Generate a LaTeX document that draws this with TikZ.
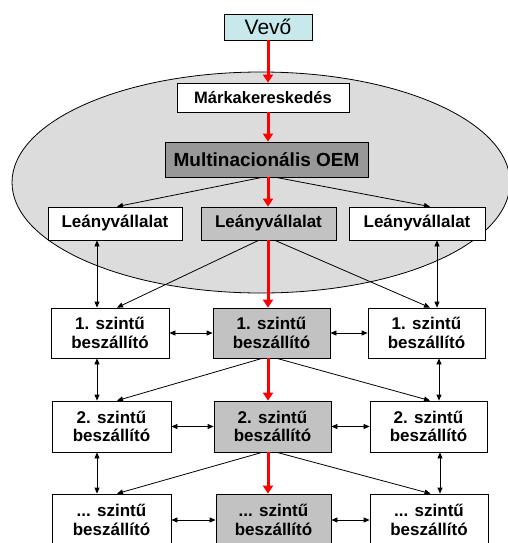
\documentclass[tikz,border=0pt]{standalone}
\usepackage{fontspec}
\setmainfont{Liberation Sans}
\usetikzlibrary{arrows.meta}
\definecolor{custcyan}{HTML}{C8E9EC}
\definecolor{oemgray}{HTML}{989898}
\definecolor{midgray}{HTML}{C2C2C2}
\definecolor{ovalgray}{HTML}{DCDCDC}
\definecolor{flowred}{HTML}{FF0000}
\tikzset{
  box/.style={draw=black, line width=0.8pt, fill=white, inner sep=0pt,
    align=center, font=\bfseries\fontsize{17}{18.5}\selectfont},
  midbox/.style={box, fill=midgray},
  redflow/.style={draw=flowred, line width=3pt, -{Triangle[length=8pt,width=10pt]}},
  link/.style={draw=black, line width=0.8pt, -{Triangle[length=6pt,width=5pt]}},
  twoway/.style={draw=black, line width=0.8pt, {Triangle[length=6pt,width=5pt]}-{Triangle[length=6pt,width=5pt]}}
}
\begin{document}
\begin{tikzpicture}[x=1pt,y=-1pt]
\useasboundingbox (0,0) rectangle (508,543);
\fill[white] (0,0) rectangle (508,543);
\clip (0,0) rectangle (508,543);

% company oval
\draw[fill=ovalgray, line width=0.8pt] (261,182.5) ellipse [x radius=249, y radius=110.5];

% top of the chain
\node[box, fill=custcyan, minimum width=88pt, minimum height=26pt,
  font=\fontsize{21}{23}\selectfont] (vevo) at (268,27) {Vevő};
\node[box, minimum width=172pt, minimum height=29pt,
  font=\bfseries\fontsize{16.5}{18}\selectfont] (marka) at (263,97.5) {Márkakereskedés};
\node[box, fill=oemgray, minimum width=203pt, minimum height=35pt,
  font=\bfseries\fontsize{19}{21}\selectfont] (oem) at (266.5,159.5) {Multinacionális OEM};

% subsidiaries
\node[box, minimum width=134pt, minimum height=33pt] (leL) at (115,223.5) {Leányvállalat};
\node[midbox, minimum width=135pt, minimum height=33pt] (leM) at (268.5,223.5) {Leányvállalat};
\node[box, minimum width=136pt, minimum height=33pt] (leR) at (417,223.5) {Leányvállalat};

% supplier tiers
\node[box, minimum width=118pt, minimum height=50pt] (t1L) at (110,333) {1. szintű\\beszállító};
\node[midbox, minimum width=117pt, minimum height=50pt] (t1M) at (271.5,333) {1. szintű\\beszállító};
\node[box, minimum width=117pt, minimum height=50pt] (t1R) at (426.5,333) {1. szintű\\beszállító};

\node[box, minimum width=119pt, minimum height=51pt] (t2L) at (111.5,426.5) {2. szintű\\beszállító};
\node[midbox, minimum width=117pt, minimum height=51pt] (t2M) at (272.5,426.5) {2. szintű\\beszállító};
\node[box, minimum width=117pt, minimum height=51pt] (t2R) at (428.5,426.5) {2. szintű\\beszállító};

\node[box, minimum width=119pt, minimum height=52pt] (t3L) at (111.5,520) {... szintű\\beszállító};
\node[midbox, minimum width=115pt, minimum height=52pt] (t3M) at (273.5,520) {... szintű\\beszállító};
\node[box, minimum width=118pt, minimum height=52pt] (t3R) at (429,520) {... szintű\\beszállító};

% main red flow
\coordinate (axis) at (268,0);
\draw[redflow] (vevo.south) -- (axis |- marka.north);
\draw[redflow] (axis |- marka.south) -- (axis |- oem.north);
\draw[redflow] (axis |- oem.south) -- (axis |- leM.north);
\draw[redflow] (axis |- leM.south) -- (axis |- t1M.north);
\draw[redflow] (axis |- t1M.south) -- (axis |- t2M.north);
\draw[redflow] (axis |- t2M.south) -- (axis |- t3M.north);

% fan-out links
\draw[link] ([xshift=-4.5pt]oem.south) -- ([xshift=2pt]leL.north);
\draw[link] ([xshift=9.5pt]oem.south) -- ([xshift=13pt]leR.north);
\draw[link] ([xshift=-10pt]leM.south) -- ([xshift=7pt]t1L.north);
\draw[link] ([xshift=6.5pt]leM.south) -- ([xshift=3.5pt]t1R.north);
\draw[link] ([xshift=-9.5pt]t1M.south) -- ([xshift=5.5pt]t2L.north);
\draw[link] ([xshift=5.5pt]t1M.south) -- ([xshift=1.5pt]t2R.north);
\draw[link] ([xshift=-10.5pt]t2M.south) -- ([xshift=5.5pt]t3L.north);
\draw[link] ([xshift=4.5pt]t2M.south) -- ([xshift=1.5pt]t3R.north);

% vertical two-way links
\draw[twoway] ([xshift=-18pt]leL.south) -- ([xshift=-18pt]leL.south |- t1L.north);
\draw[twoway] ([xshift=20pt]leR.south) -- ([xshift=20pt]leR.south |- t1R.north);
\draw[twoway] ([xshift=-13pt]t1L.south) -- ([xshift=-13pt]t1L.south |- t2L.north);
\draw[twoway] ([xshift=12.5pt]t1R.south) -- ([xshift=12.5pt]t1R.south |- t2R.north);
\draw[twoway] ([xshift=-14.5pt]t2L.south) -- ([xshift=-14.5pt]t2L.south |- t3L.north);
\draw[twoway] ([xshift=11.5pt]t2R.south) -- ([xshift=11.5pt]t2R.south |- t3R.north);

% horizontal two-way links
\draw[twoway] (t1L.east) -- (t1M.west);
\draw[twoway] (t1M.east) -- (t1R.west);
\draw[twoway] (t2L.east) -- (t2M.west);
\draw[twoway] (t2M.east) -- (t2R.west);
\draw[twoway] (t3L.east) -- (t3M.west);
\draw[twoway] (t3M.east) -- (t3R.west);
\end{tikzpicture}
\end{document}
